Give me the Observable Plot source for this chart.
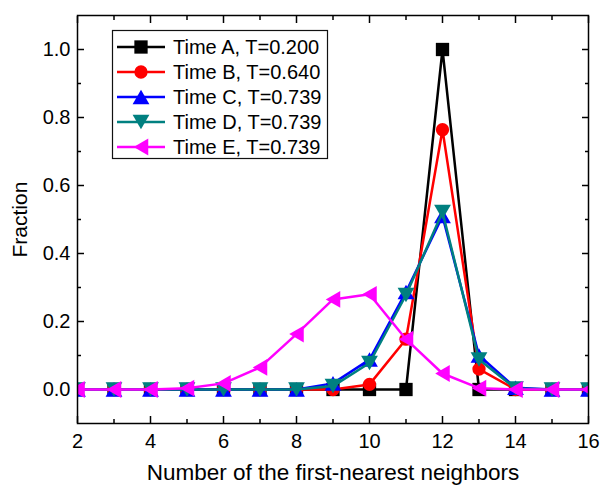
<!DOCTYPE html>
<html><head><meta charset="utf-8">
<script src="https://cdn.jsdelivr.net/npm/d3@7"></script>
<script src="https://cdn.jsdelivr.net/npm/@observablehq/plot@0.6"></script>
<style>
html,body{margin:0;padding:0;background:#fff;}
#wrap{position:relative;width:600px;height:485px;font-family:"Liberation Sans",Arial,sans-serif;}
</style></head><body><div id="wrap"></div>
<script>
// ---- data ----
const neighbors = [2,3,4,5,6,7,8,9,10,11,12,13,14,15,16];
const timeA = [0,0,0,0,0,0,0,0,0,0,1.0,0,0,0,0];
const timeB = [0,0,0,0,0,0,0,0,0.015,0.148,0.764,0.06,0,0,0];
const timeC = [0,0,0,0,0,0,0,0.018,0.088,0.287,0.51,0.10,0.005,0,0];
const timeD = [0,0,0,0,0,0,0,0.01,0.078,0.278,0.522,0.088,0.003,0,0];
const timeE = [0,0,0,0.004,0.018,0.065,0.163,0.265,0.28,0.148,0.047,0.004,0,0,0];
const seriesNames = ["Time A, T=0.200","Time B, T=0.640","Time C, T=0.739","Time D, T=0.739","Time E, T=0.739"];
const seriesColors = ["#000000","#ff0000","#0000ff","#008080","#ff00ff"];
const xTicksMajor = [2,4,6,8,10,12,14,16];
const xTicksMinor = [3,5,7,9,11,13,15];
const yTicksMajor = [0,0.2,0.4,0.6,0.8,1.0];
const yTicksMinor = [0.1,0.3,0.5,0.7,0.9];
const xTitle = "Number of the first-nearest neighbors";
const yTitle = "Fraction";

// ---- symbols ----
const R = s => Math.sqrt(s / Math.PI);
const symSquare = {draw(c, s){const h = 0.95*R(s); c.moveTo(-h,-h); c.lineTo(h,-h); c.lineTo(h,h); c.lineTo(-h,h); c.closePath();}};
const symCircle = {draw(c, s){const r = 0.95*R(s); c.moveTo(r,0); c.arc(0,0,r,0,2*Math.PI); c.closePath();}};
const symUp = {draw(c, s){const a = 2.4*R(s), h = a*0.866; c.moveTo(0,-h/2); c.lineTo(a/2,h/2); c.lineTo(-a/2,h/2); c.closePath();}};
const symDown = {draw(c, s){const a = 2.4*R(s), h = a*0.866; c.moveTo(0,h/2); c.lineTo(a/2,-h/2); c.lineTo(-a/2,-h/2); c.closePath();}};
const symLeft = {draw(c, s){const a = 2.4*R(s), h = a*0.866; c.moveTo(-h/2,0); c.lineTo(h/2,-a/2); c.lineTo(h/2,a/2); c.closePath();}};
const seriesSymbols = [symSquare, symCircle, symUp, symDown, symLeft];
const allSeries = [timeA, timeB, timeC, timeD, timeE];

const seriesMarks = allSeries.flatMap((vals, i) => {
  const rows = neighbors.map((n, j) => ({n, f: vals[j]}));
  return [
    Plot.line(rows, {x: "n", y: "f", stroke: seriesColors[i], strokeWidth: 2.5, clip: true}),
    Plot.dot(rows, {x: "n", y: "f", fill: seriesColors[i], stroke: "none", r: 7, symbol: seriesSymbols[i], clip: true})
  ];
});

const tickOpts = {fill: "none", label: null, strokeWidth: 1.5};
const chart = Plot.plot({
  width: 600, height: 485,
  marginLeft: 77, marginRight: 12, marginTop: 15, marginBottom: 62,
  x: {domain: [2, 16]},
  y: {domain: [-0.1, 1.1]},
  style: {fontFamily: "'Liberation Sans', Arial, sans-serif", fontSize: "20px", color: "black", background: "white", overflow: "visible"},
  marks: [
    Plot.axisX({ticks: xTicksMajor, anchor: "bottom", tickSize: 7, insetBottom: 7, ...tickOpts}),
    Plot.axisX({ticks: xTicksMinor, anchor: "bottom", tickSize: 4, insetBottom: 4, ...tickOpts}),
    Plot.axisX({ticks: xTicksMajor, anchor: "top", tickSize: 7, insetTop: 7, ...tickOpts}),
    Plot.axisX({ticks: xTicksMinor, anchor: "top", tickSize: 4, insetTop: 4, ...tickOpts}),
    Plot.axisY({ticks: yTicksMajor, anchor: "left", tickSize: 7, insetLeft: 7, ...tickOpts}),
    Plot.axisY({ticks: yTicksMinor, anchor: "left", tickSize: 4, insetLeft: 4, ...tickOpts}),
    Plot.axisY({ticks: yTicksMajor, anchor: "right", tickSize: 7, insetRight: 7, ...tickOpts}),
    Plot.axisY({ticks: yTicksMinor, anchor: "right", tickSize: 4, insetRight: 4, ...tickOpts}),
    Plot.axisX({ticks: xTicksMajor, anchor: "bottom", tickSize: 0, tickPadding: 10, label: null}),
    Plot.axisY({ticks: yTicksMajor, anchor: "left", tickSize: 0, tickPadding: 7, tickFormat: d3.format(".1f"), label: null}),
    ...seriesMarks,
    Plot.frame({stroke: "black", strokeWidth: 1.5}),
    Plot.text([xTitle], {text: d => d, frameAnchor: "bottom", dy: 56, lineAnchor: "bottom", fontSize: 22.5}),
    Plot.text([yTitle], {text: d => d, frameAnchor: "left", dx: -57, dy: 38, rotate: -90, fontSize: 21})
  ]
});
const wrap = document.getElementById("wrap");
wrap.appendChild(chart);

// ---- legend overlay ----
const lg = d3.select(wrap).append("svg")
  .attr("width", 600).attr("height", 485)
  .style("position", "absolute").style("left", "0px").style("top", "0px")
  .style("font-family", "'Liberation Sans', Arial, sans-serif");
lg.append("rect").attr("x", 112.5).attr("y", 30.5).attr("width", 215).attr("height", 128)
  .attr("fill", "white").attr("stroke", "#111").attr("stroke-width", 1.2);
seriesNames.forEach((name, i) => {
  const y = 47 + 25 * i;
  lg.append("line").attr("x1", 117).attr("x2", 165).attr("y1", y).attr("y2", y)
    .attr("stroke", seriesColors[i]).attr("stroke-width", 2.5);
  lg.append("path").attr("d", d3.symbol(seriesSymbols[i], 49 * Math.PI)())
    .attr("transform", `translate(141,${y})`).attr("fill", seriesColors[i]);
  lg.append("text").attr("x", 173).attr("y", y).attr("dy", "0.35em")
    .attr("font-size", 20).attr("fill", "black").text(name);
});
</script></body></html>
